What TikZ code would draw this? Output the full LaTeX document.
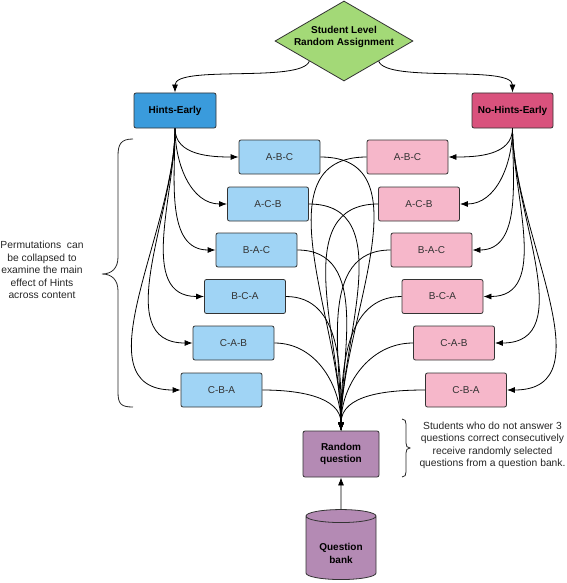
\documentclass[tikz,border=0pt]{standalone}
\usepackage{fontspec}
\setmainfont{Liberation Sans}
\usetikzlibrary{shapes.geometric,arrows.meta}
\definecolor{dgreen}{HTML}{A3D977}
\definecolor{dblue}{HTML}{3A9BDC}
\definecolor{dpink}{HTML}{D9527D}
\definecolor{lblue}{HTML}{A0D4F5}
\definecolor{lpink}{HTML}{F6B7CA}
\definecolor{purp}{HTML}{B48AB4}
\begin{document}
\begin{tikzpicture}[x=1pt,y=1pt,
  box/.style={draw=black!80, line width=0.8pt, rounded corners=2pt, minimum width=81pt, minimum height=34pt, inner sep=0pt, font=\fontsize{10}{12}\selectfont, text=black!80},
  bluebox/.style={box, fill=lblue},
  pinkbox/.style={box, fill=lpink},
  headbox/.style={box, minimum width=82pt, minimum height=35pt, font=\fontsize{10}{12}\selectfont\bfseries, text=black},
  purpbox/.style={draw=black!80, line width=0.8pt, fill=purp, font=\fontsize{10}{12.3}\selectfont\bfseries, align=center, inner sep=0pt},
  arr/.style={-{Latex[length=8pt,width=6pt]}, line width=0.8pt, black},
  note/.style={align=center, font=\fontsize{10.3}{12.4}\selectfont, text=black!85, inner sep=0pt},
  bracestyle/.style={line width=0.8pt, black!85}]
\useasboundingbox (0,0) rectangle (566,-583);

% root diamond
\node[diamond, draw=black!80, line width=0.8pt, fill=dgreen, minimum width=138pt, minimum height=80pt, inner sep=0pt] (root) at (344,-41) {};
\node[font=\fontsize{10}{12.5}\selectfont\bfseries, align=center, inner sep=0pt] (roottext) at (344,-37) {Student Level\\Random Assignment};

% heads
\node[headbox, fill=dblue] (he) at (175,-110.5) {Hints-Early};
\node[headbox, fill=dpink, minimum width=81pt] (nhe) at (512.5,-110.5) {No-Hints-Early};

% permutation boxes
\foreach \n/\x/\y/\t in {1/279.5/157/A-B-C, 2/268/204/A-C-B, 3/256.5/250/B-A-C, 4/245/296.5/B-C-A, 5/233.5/343/C-A-B, 6/221.5/390/C-B-A}
  \node[bluebox] (b\n) at (\x,-\y) {\t};
\foreach \n/\x/\y/\t in {1/407.5/157/A-B-C, 2/419/204/A-C-B, 3/431.5/250/B-A-C, 4/442.5/296.5/B-C-A, 5/454/343/C-A-B, 6/466/390/C-B-A}
  \node[pinkbox] (p\n) at (\x,-\y) {\t};

% random question and bank
\node[purpbox, rounded corners=2pt, minimum width=76pt, minimum height=46pt] (rq) at (341,-454) {Random\\question};
\node[purpbox, cylinder, shape border rotate=90, aspect=0.3, minimum width=70pt, minimum height=70pt] (qb) at (341,-548) {\rule{0pt}{18pt}Question\\bank};

% connectors
\draw[arr] (root.south west) .. controls +(-8,-22) and +(0,28) .. (he.north);
\draw[arr] (root.south east) .. controls +(8,-22) and +(0,28) .. (nhe.north);
\foreach \n in {1,...,6} {
  \draw[arr] (he.south) to[out=-90,in=180] (b\n.west);
  \draw[arr] (nhe.south) to[out=-90,in=0] (p\n.east);
  \draw[arr] (b\n.east) to[out=0,in=90] (rq.north);
  \draw[arr] (p\n.west) to[out=180,in=90] (rq.north);
}
\draw[arr] (qb.north) -- (rq.south);

% braces
\draw[bracestyle] (133,-139) .. controls (121,-139) and (118,-144) .. (118,-156) -- (118,-257) .. controls (118,-268) and (112,-274) .. (102,-274) .. controls (112,-274) and (118,-280) .. (118,-291) -- (118,-392) .. controls (118,-404) and (121,-407) .. (133,-407);
\draw[bracestyle] (402,-419) .. controls (405,-419) and (406,-421) .. (406,-424) -- (406,-443) .. controls (406,-446) and (407,-448) .. (410,-448) .. controls (407,-448) and (406,-450) .. (406,-453) -- (406,-472) .. controls (406,-475) and (405,-477) .. (402,-477);

% notes
\node[note] (leftnote) at (42,-270) {Permutations\ \ can\\be collapsed to\\examine the main\\effect of Hints\\across content};
\node[note] (rightnote) at (492.5,-445.5) {Students who do not answer 3\\questions correct consecutively\\receive randomly selected\\questions from a question bank.};
\end{tikzpicture}
\end{document}
